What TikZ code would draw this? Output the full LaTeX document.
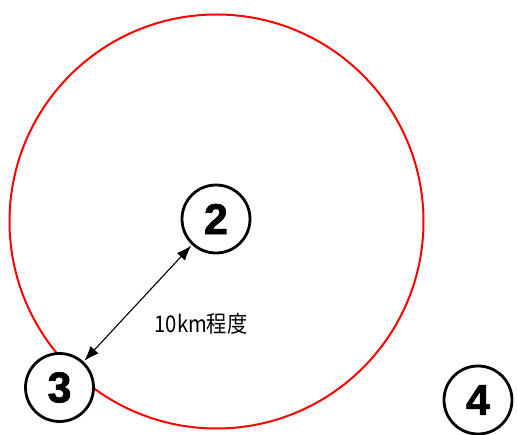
\documentclass[tikz,border=0pt]{standalone}
\usepackage{fontspec}
\setmainfont{Liberation Sans}
\newfontfamily\numfont{Liberation Sans}[BoldFeatures={FakeBold=1.6}]
\newfontfamily\cjk{Noto Sans CJK JP}
\usetikzlibrary{arrows.meta}
\begin{document}
\begin{tikzpicture}[x=1pt,y=-1pt,
  num/.style={circle, draw=black, line width=2.8pt, minimum size=68pt, inner sep=0pt, fill=white,
    font=\numfont\bfseries\fontsize{43}{43}\selectfont},
  zone/.style={draw=red, line width=2pt},
  dist/.style={{Latex[length=15pt,width=11pt]}-{Latex[length=15pt,width=11pt]}, line width=1.1pt, shorten <=1pt, shorten >=1pt},
  lbl/.style={font=\cjk\fontsize{23}{23}\selectfont, inner sep=0pt}]
\useasboundingbox (0,0) rectangle (517,435);
\draw[zone] (216.5,221.5) circle[radius=207];
\node[num] (n2) at (216,219) {2};
\node[num] (n3) at (59.5,387.5) {3};
\node[num] (n4) at (478,400) {4};
\draw[dist] (n3) -- (n2);
\node[lbl] (t) at (201,324) {\scalebox{0.88}[1]{10km程度}};
\end{tikzpicture}
\end{document}
